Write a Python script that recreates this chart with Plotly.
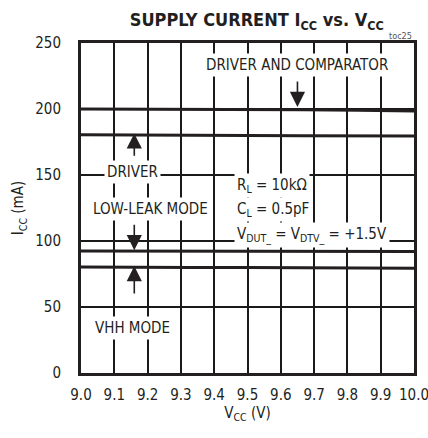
import plotly.graph_objects as go

vcc = [9.0, 9.167, 9.333, 9.5, 9.667, 9.833, 10.0]
drv_cmp = [200.0, 200.0, 200.0, 200.0, 199.5, 199.0, 198.5]
driver = [180.5, 180.5, 180.5, 180.0, 179.8, 179.5, 179.5]
low_leak = [92.5, 92.5, 92.5, 92.3, 92.0, 92.0, 92.0]
vhh = [80.3, 80.0, 80.0, 80.0, 80.0, 79.5, 79.3]

x_ticks = [9.0, 9.1, 9.2, 9.3, 9.4, 9.5, 9.6, 9.7, 9.8, 9.9, 10.0]
y_ticks = [0, 50, 100, 150, 200, 250]

FONT = "Liberation Sans Narrow, Arial Narrow, DejaVu Sans Condensed, sans-serif"
INK = "#231f20"
GRID = "#1a1a1a"

fig = go.Figure()
for ys in [drv_cmp, driver, low_leak, vhh]:
    fig.add_trace(go.Scatter(x=vcc, y=ys, mode="lines",
                             line=dict(color=INK, width=3), showlegend=False,
                             hoverinfo="skip"))

def label(x, y, text, xanchor="center"):
    fig.add_annotation(x=x, y=y, xref="x", yref="y", text=text, showarrow=False,
                       xanchor=xanchor, yanchor="middle", bgcolor="white",
                       borderpad=2, font=dict(family=FONT, size=15, color=INK))

def arrow(x, y_tip, y_tail):
    fig.add_annotation(x=x, y=y_tip, ax=x, ay=y_tail, xref="x", yref="y",
                       axref="x", ayref="y", text="", showarrow=True,
                       arrowhead=2, arrowsize=1.9, arrowwidth=1.6,
                       arrowcolor=INK)

label(9.648, 233, "DRIVER AND COMPARATOR")
arrow(9.65, 201.5, 222)
label(9.156, 152, "DRIVER")
arrow(9.16, 181.5, 163.5)
label(9.21, 124, "LOW-LEAK MODE")
arrow(9.16, 93, 113.5)
label(9.156, 34, "VHH MODE")
arrow(9.16, 81, 59)
label(9.46, 142, "R<sub>L</sub> = 10kΩ", xanchor="left")
label(9.46, 124, "C<sub>L</sub> = 0.5pF", xanchor="left")
label(9.46, 104.5, "V<sub>DUT_</sub> = V<sub>DTV_</sub> = +1.5V", xanchor="left")

fig.add_annotation(x=1.0, y=1.0, xref="paper", yref="paper", text="toc25",
                   showarrow=False, xanchor="right", yanchor="bottom",
                   font=dict(family=FONT, size=9, color="#555"))

fig.update_layout(
    template="none",
    width=428, height=438,
    margin=dict(l=81, r=14, t=43, b=65, autoexpand=False),
    paper_bgcolor="white", plot_bgcolor="white",
    font=dict(family=FONT, size=15, color=INK),
    title=dict(text="<b>SUPPLY CURRENT I<sub>CC</sub> vs. V<sub>CC</sub></b>",
               x=0.6, xanchor="center", y=0.955, yanchor="middle",
               font=dict(family=FONT, size=18, color=INK)),
    xaxis=dict(range=[9.0, 10.0], tickvals=x_ticks, automargin=False,
               ticktext=[f"{v:.1f}" for v in x_ticks],
               showgrid=True, gridcolor=GRID, gridwidth=1.5, griddash="solid",
               showline=True, linecolor=INK, linewidth=3, mirror=True,
               zeroline=False, ticks="outside", ticklen=6,
               tickcolor="rgba(0,0,0,0)", ticklabeloverflow="allow",
               title=dict(text="V<sub>CC</sub> (V)", standoff=4,
                          font=dict(family=FONT, size=15, color=INK))),
    yaxis=dict(range=[0, 250], tickvals=y_ticks, automargin=False,
               showgrid=True, gridcolor=GRID, gridwidth=1.5, griddash="solid",
               showline=True, linecolor=INK, linewidth=3, mirror=True,
               zeroline=False, ticks="outside", ticklen=14,
               tickcolor="rgba(0,0,0,0)", ticklabeloverflow="allow",
               title=dict(text="I<sub>CC</sub> (mA)", standoff=8,
                          font=dict(family=FONT, size=15, color=INK))),
)

fig.write_html("out.html", config={"displayModeBar": False},
               post_script="document.body.style.margin='0';")
